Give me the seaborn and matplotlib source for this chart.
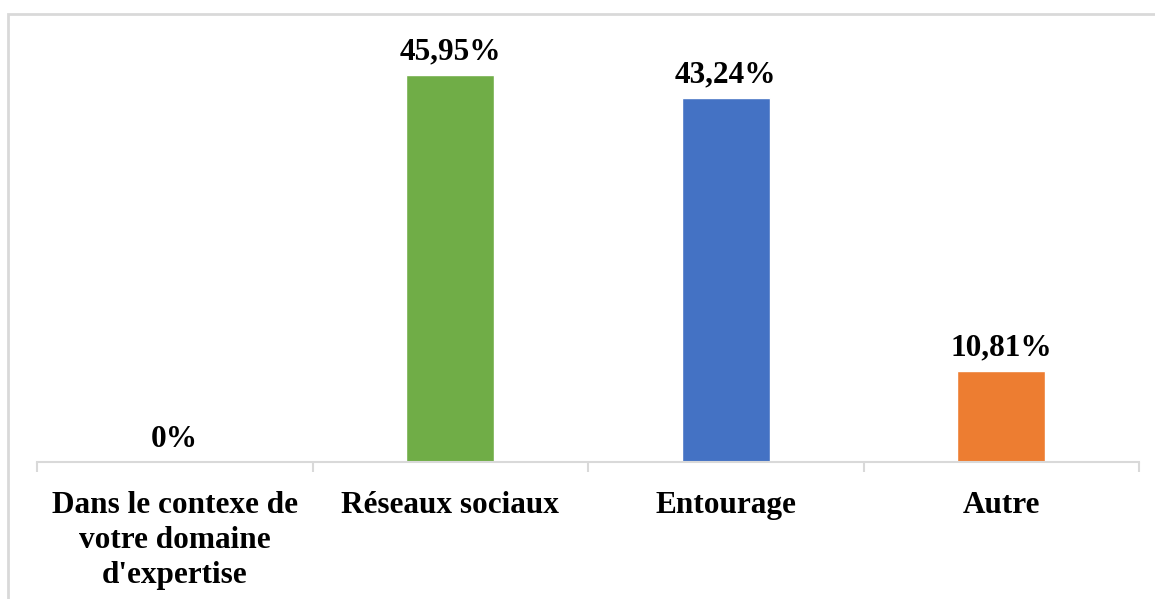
import matplotlib
matplotlib.use("Agg")
import matplotlib.pyplot as plt
from matplotlib.patches import Rectangle
import seaborn as sns
import pandas as pd

categories = ["Dans le contexe de\nvotre domaine\nd'expertise", "Réseaux sociaux", "Entourage", "Autre"]
values = [0.0, 45.95, 43.24, 10.81]
value_labels = ["0%", "45,95%", "43,24%", "10,81%"]
colors = ["#A5A5A5", "#70AD47", "#4472C4", "#ED7D31"]

sns.set_style("white")
plt.rcParams["font.family"] = ["Liberation Serif", "DejaVu Serif"]
plt.rcParams["text.color"] = "black"
plt.rcParams["xtick.color"] = "black"

W, H = 1155, 599
fig = plt.figure(figsize=(W / 100, H / 100), dpi=100)
ax = fig.add_axes([37 / W, 1 - 462 / H, (1139 - 37) / W, (462 - 41) / H])

df = pd.DataFrame({"cat": categories, "val": values})
sns.barplot(data=df, x="cat", y="val", hue="cat", palette=colors,
            width=0.32, legend=False, ax=ax, saturation=1)

ax.set_xlim(-0.5, 3.5)
ax.set_ylim(0, 50)
ax.set_xlabel("")
ax.set_ylabel("")
ax.set_yticks([])

for s in ["top", "right", "left"]:
    ax.spines[s].set_visible(False)
ax.spines["bottom"].set_color("#D9D9D9")
ax.spines["bottom"].set_linewidth(1.5)

# category labels at bar centres, tick marks at category boundaries
ax.set_xticks(range(len(categories)))
ax.set_xticklabels(categories, fontsize=22.5, fontweight="bold",
                   linespacing=1.27, va="top", color="black")
ax.tick_params(axis="x", which="major", length=0, pad=21)
ax.set_xticks([i - 0.5 for i in range(len(categories) + 1)], minor=True)
ax.tick_params(axis="x", which="minor", bottom=True, length=7, width=1.5,
               color="#D9D9D9", direction="out")

for i, (v, lab) in enumerate(zip(values, value_labels)):
    ax.annotate(lab, (i, v), xytext=(0, 6), textcoords="offset points",
                ha="center", va="bottom", fontsize=22.5, fontweight="bold",
                color="black")

# chart frame
fig.patches.append(Rectangle((7.5 / W, -0.2), 1.5, 1.2 - 14 / H,
                             transform=fig.transFigure, fill=False,
                             edgecolor="#D9D9D9", linewidth=2))

fig.savefig("out.png", dpi=100, facecolor="white")
